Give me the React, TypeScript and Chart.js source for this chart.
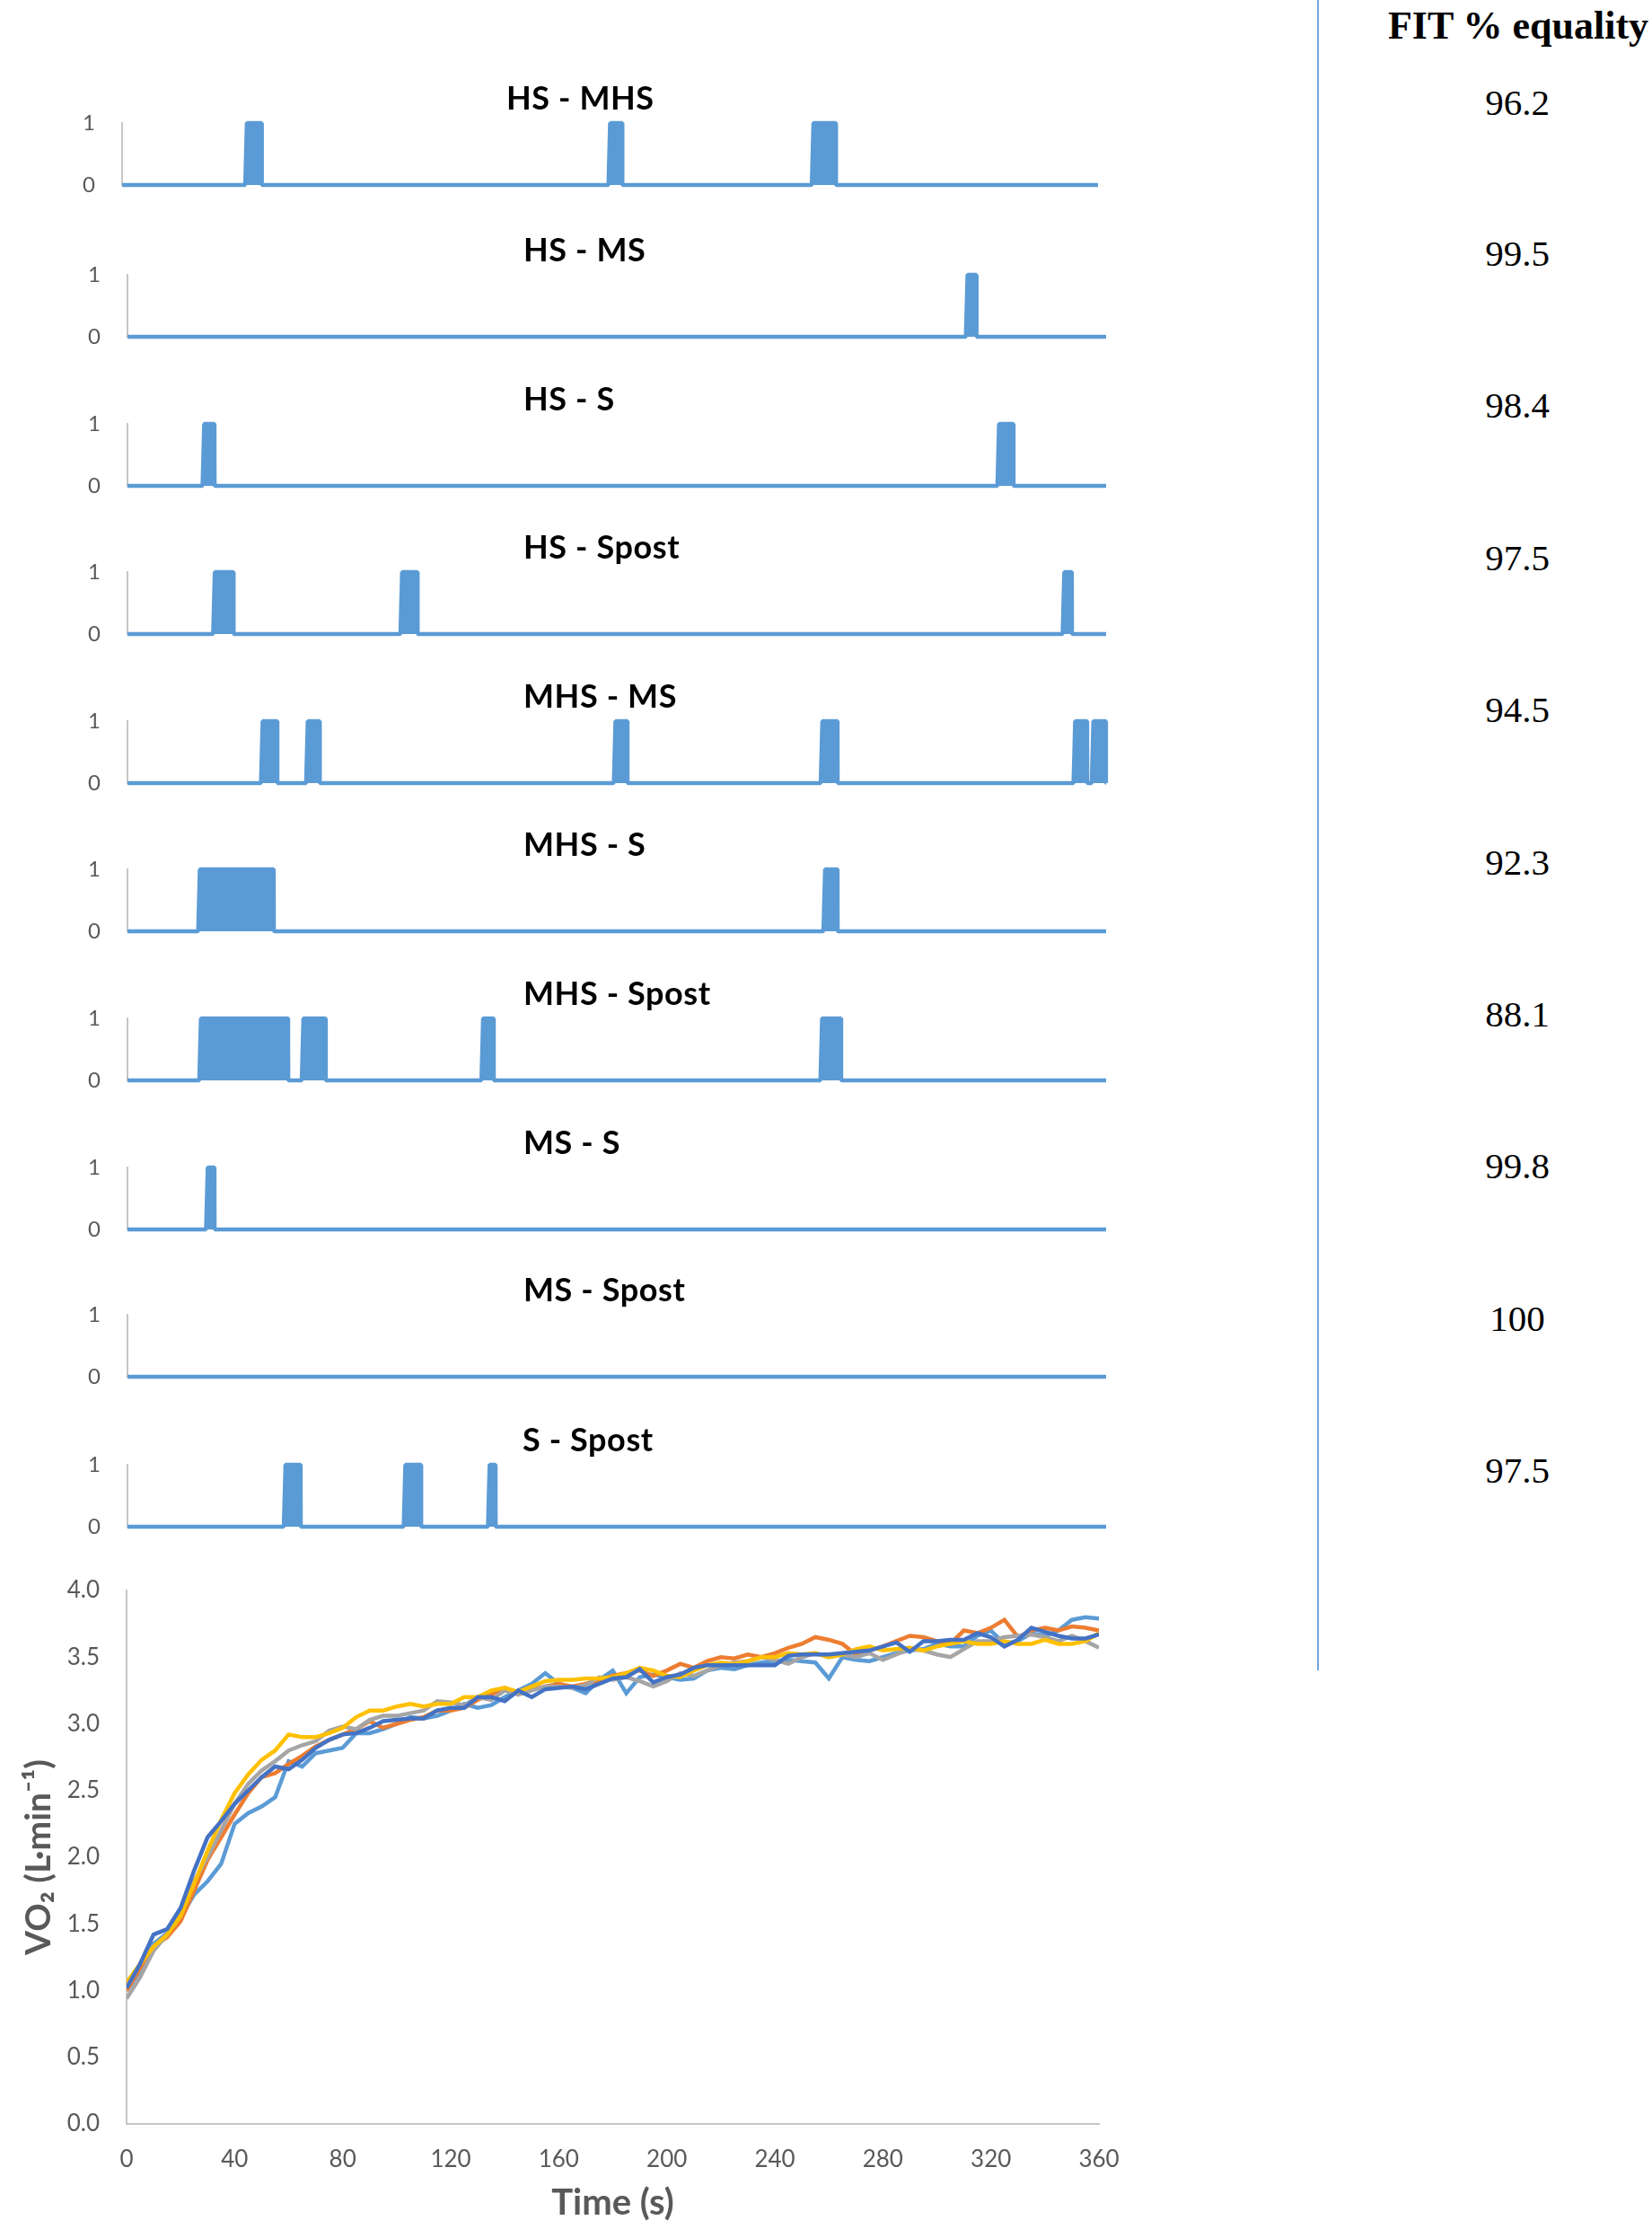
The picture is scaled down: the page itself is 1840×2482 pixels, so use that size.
import React, { useEffect, useRef } from "react";
import { Chart, registerables } from "chart.js";

Chart.register(...registerables);

// ---------------- data ----------------
const TIME = [
  0, 5, 10, 15, 20, 25, 30, 35, 40, 45,
  50, 55, 60, 65, 70, 75, 80, 85, 90, 95,
  100, 105, 110, 115, 120, 125, 130, 135, 140, 145,
  150, 155, 160, 165, 170, 175, 180, 185, 190, 195,
  200, 205, 210, 215, 220, 225, 230, 235, 240, 245,
  250, 255, 260, 265, 270, 275, 280, 285, 290, 295,
  300, 305, 310, 315, 320, 325, 330, 335, 340, 345,
  350, 355, 360,
];

const SERIES_LIGHT_BLUE = [
  1.0, 1.15, 1.35, 1.43, 1.55, 1.72, 1.82, 1.95, 2.25, 2.33,
  2.38, 2.45, 2.72, 2.68, 2.78, 2.8, 2.82, 2.93, 2.93, 2.96,
  3.0, 3.05, 3.04, 3.06, 3.1, 3.15, 3.12, 3.14, 3.2, 3.25,
  3.3, 3.38, 3.3, 3.27, 3.23, 3.33, 3.4, 3.23, 3.35, 3.37,
  3.35, 3.33, 3.34, 3.4, 3.42, 3.41, 3.44, 3.46, 3.47, 3.48,
  3.47, 3.46, 3.34, 3.5, 3.48, 3.47, 3.5, 3.53, 3.55, 3.56,
  3.6, 3.58, 3.58, 3.66, 3.7, 3.6, 3.62, 3.68, 3.66, 3.7,
  3.78, 3.8, 3.79,
];

const SERIES_ORANGE = [
  1.0, 1.17, 1.33, 1.4, 1.52, 1.75, 1.98, 2.15, 2.32, 2.48,
  2.6, 2.63, 2.7, 2.76, 2.83, 2.88, 2.92, 2.96, 3.02, 2.97,
  3.0, 3.03, 3.05, 3.1, 3.1, 3.12, 3.18, 3.22, 3.27, 3.22,
  3.26, 3.28, 3.3, 3.28, 3.3, 3.33, 3.36, 3.38, 3.4, 3.36,
  3.4, 3.45, 3.42, 3.47, 3.5, 3.49, 3.52, 3.5, 3.53, 3.57,
  3.6, 3.65, 3.63, 3.6, 3.52, 3.55, 3.58, 3.62, 3.66, 3.65,
  3.62, 3.6, 3.7, 3.68, 3.72, 3.78, 3.65, 3.7, 3.72, 3.7,
  3.73, 3.72, 3.7,
];

const SERIES_GRAY = [
  0.94, 1.1, 1.3, 1.42, 1.58, 1.82, 2.0, 2.2, 2.4, 2.55,
  2.65, 2.72, 2.8, 2.84, 2.87, 2.95, 2.98, 2.96, 3.03, 3.06,
  3.06, 3.08, 3.1, 3.17, 3.16, 3.14, 3.2, 3.18, 3.25, 3.22,
  3.25, 3.28, 3.28, 3.27, 3.29, 3.35, 3.33, 3.35, 3.32, 3.28,
  3.32, 3.38, 3.36, 3.4, 3.44, 3.46, 3.47, 3.5, 3.48, 3.45,
  3.5, 3.53, 3.5, 3.52, 3.5, 3.53, 3.48, 3.52, 3.56, 3.55,
  3.52, 3.5, 3.56, 3.62, 3.62, 3.65, 3.66, 3.67, 3.65, 3.62,
  3.66, 3.62, 3.57,
];

const SERIES_YELLOW = [
  1.06, 1.2, 1.33, 1.42, 1.56, 1.8, 2.05, 2.28, 2.48, 2.62,
  2.73, 2.8, 2.92, 2.9, 2.9, 2.93, 2.97, 3.05, 3.1, 3.1,
  3.13, 3.15, 3.13, 3.15, 3.15, 3.2, 3.2, 3.25, 3.27, 3.24,
  3.28, 3.32, 3.33, 3.33, 3.34, 3.34, 3.35, 3.38, 3.42, 3.4,
  3.36, 3.35, 3.4, 3.44, 3.46, 3.45, 3.47, 3.5, 3.5, 3.53,
  3.52, 3.53, 3.5, 3.52, 3.56, 3.58, 3.55, 3.56, 3.57, 3.55,
  3.58, 3.6, 3.62, 3.6, 3.6, 3.62, 3.6, 3.6, 3.63, 3.6,
  3.6, 3.62, 3.68,
];

const SERIES_DARK_BLUE = [
  1.02, 1.2, 1.42, 1.46, 1.62, 1.9, 2.15, 2.27, 2.4, 2.5,
  2.6, 2.68, 2.66, 2.73, 2.82, 2.88, 2.92, 2.93, 2.97, 3.02,
  3.03, 3.04, 3.04, 3.1, 3.12, 3.12, 3.2, 3.2, 3.17, 3.25,
  3.2, 3.26, 3.27, 3.28, 3.26, 3.3, 3.34, 3.35, 3.41, 3.31,
  3.35, 3.37, 3.42, 3.44, 3.44, 3.44, 3.44, 3.44, 3.44, 3.51,
  3.52, 3.52, 3.52, 3.53, 3.54, 3.55, 3.58, 3.61, 3.54, 3.62,
  3.62, 3.63, 3.63, 3.68, 3.65, 3.58, 3.63, 3.72, 3.69, 3.66,
  3.64, 3.64, 3.67,
];

// Disagreement periods (seconds) for each pairwise comparison: [start, end]
const HS_MHS = [[46, 51.5], [180, 184.5], [255, 263.3]];
const HS_MS = [[309, 312.3]];
const HS_S = [[28.2, 32], [320.6, 325.9]];
const HS_SPOST = [[32.1, 39], [101, 106.7], [344.6, 347.4]];
const MHS_MS = [[49.7, 55.1], [66.3, 70.7], [179.5, 183.9], [255.6, 261.2], [348.6, 353], [355.3, 359.9]];
const MHS_S = [[26.6, 53.8], [256.6, 261.2]];
const MHS_SPOST = [[27, 59.1], [64.7, 72.9], [130.8, 134.7], [255.5, 262.5]];
const MS_S = [[29.5, 32]];
const MS_SPOST: number[][] = [];
const S_SPOST = [[58.1, 63.7], [102.2, 108], [133.2, 135.4]];

const PANEL_TITLES = [
  "HS - MHS", "HS - MS", "HS - S", "HS - Spost", "MHS - MS",
  "MHS - S", "MHS - Spost", "MS - S", "MS - Spost", "S - Spost",
];
const PANEL_DATA = [HS_MHS, HS_MS, HS_S, HS_SPOST, MHS_MS, MHS_S, MHS_SPOST, MS_S, MS_SPOST, S_SPOST];

const FIT_HEADER = "FIT % equality";
const FIT_VALUES = ["96.2", "99.5", "98.4", "97.5", "94.5", "92.3", "88.1", "99.8", "100", "97.5"];

const Y_AXIS_TITLE = "VO\u2082 (L\u00B7min\u207B\u00B9)";
const X_AXIS_TITLE = "Time (s)";

// ---------------- layout / style ----------------
const PANEL_BASELINES = [206, 375, 541, 706, 872, 1037, 1203, 1369, 1533, 1700];
const PANEL_LEFT = [136, 142, 142, 142, 142, 142, 142, 142, 142, 142];
const PANEL_RIGHT = [1223, 1232, 1232, 1232, 1232, 1232, 1232, 1232, 1232, 1232];
const TITLE_LEFT = [564, 583, 583, 583, 583, 583, 583, 583, 583, 582];
const FIT_Y = [114, 282, 451, 621, 790, 960, 1129, 1298, 1468, 1637];
const PANEL_H = 69;
const PAD = 24;
const CANVAS_W = 1260;

const BLUE = "#5B9BD5";
const AXIS_GRAY = "#C6C6C6";
const TICK_GRAY = "#595959";
const NONE = "rgba(0,0,0,0)";

// invisible tick marks used as a spacer between axis and labels
const spacerGrid = (len: number) => ({
  display: true,
  drawOnChartArea: false,
  drawTicks: true,
  tickLength: len,
  color: NONE,
  tickColor: NONE,
});

function toStepPoints(intervals: number[][]) {
  const pts: { x: number; y: number }[] = [{ x: 0, y: 0 }];
  for (const [s, e] of intervals) {
    pts.push({ x: s - 0.6, y: 0 }, { x: s, y: 1 }, { x: e, y: 1 }, { x: e + 0.05, y: 0 });
  }
  pts.push({ x: 360, y: 0 });
  return pts;
}

function BinaryPanel({ index }: { index: number }) {
  const ref = useRef<HTMLCanvasElement>(null);
  const H = PANEL_H + 2 * PAD;
  useEffect(() => {
    const left = PANEL_LEFT[index];
    const right = PANEL_RIGHT[index];
    const chart = new Chart(ref.current!, {
      type: "line",
      data: {
        datasets: [
          {
            data: toStepPoints(PANEL_DATA[index]),
            borderColor: BLUE,
            backgroundColor: BLUE,
            borderWidth: 4.5,
            fill: "origin",
            pointRadius: 0,
            tension: 0,
            clip: 10,
            borderJoinStyle: "bevel",
          } as any,
        ],
      },
      options: {
        animation: false,
        responsive: false,
        events: [],
        layout: { autoPadding: false, padding: { top: PAD, bottom: PAD, left: 0, right: CANVAS_W - right } },
        plugins: { legend: { display: false }, tooltip: { enabled: false }, title: { display: false } },
        scales: {
          x: { type: "linear", min: 0, max: 360, display: false },
          y: {
            min: 0,
            max: 1,
            afterFit: (s: any) => {
              s.width = left;
            },
            grid: spacerGrid(28),
            border: { display: true, color: AXIS_GRAY, width: 2 },
            ticks: { stepSize: 1, padding: 2, color: TICK_GRAY, font: { family: "Lato", size: 24 } },
          },
        },
      } as any,
    });
    return () => chart.destroy();
  }, [index]);
  return (
    <canvas
      ref={ref}
      width={CANVAS_W}
      height={H}
      style={{ position: "absolute", left: 0, top: PANEL_BASELINES[index] - PANEL_H - PAD, width: CANVAS_W, height: H }}
    />
  );
}

const VO2_TOP = 1740;
const VO2_H = 742;

function VO2Chart() {
  const ref = useRef<HTMLCanvasElement>(null);
  useEffect(() => {
    const mk = (data: number[], color: string, order: number) => ({
      data: TIME.map((t, i) => ({ x: t, y: data[i] })),
      borderColor: color,
      backgroundColor: color,
      borderWidth: 4.5,
      pointRadius: 0,
      tension: 0,
      fill: false,
      order,
    });
    const chart = new Chart(ref.current!, {
      type: "line",
      data: {
        datasets: [
          mk(SERIES_LIGHT_BLUE, "#5B9BD5", 4),
          mk(SERIES_ORANGE, "#ED7D31", 3),
          mk(SERIES_GRAY, "#A5A5A5", 2),
          mk(SERIES_YELLOW, "#FFC000", 1),
          mk(SERIES_DARK_BLUE, "#4472C4", 0),
        ],
      },
      options: {
        animation: false,
        responsive: false,
        events: [],
        layout: { autoPadding: false, padding: { top: 31, bottom: 0, left: 0, right: CANVAS_W - 1224 } },
        plugins: { legend: { display: false }, tooltip: { enabled: false } },
        scales: {
          x: {
            type: "linear",
            min: 0,
            max: 360,
            afterFit: (s: any) => {
              s.height = 117;
            },
            grid: spacerGrid(22),
            border: { display: true, color: AXIS_GRAY, width: 2 },
            ticks: { stepSize: 40, padding: 2, color: TICK_GRAY, font: { family: "Lato", size: 26 }, maxRotation: 0 },
            title: {
              display: true,
              text: X_AXIS_TITLE,
              color: TICK_GRAY,
              font: { family: "Lato", size: 40, weight: "bold" },
              padding: { top: 0, bottom: 5 },
            },
          },
          y: {
            min: 0,
            max: 4,
            afterFit: (s: any) => {
              s.width = 141;
            },
            grid: spacerGrid(28),
            border: { display: true, color: AXIS_GRAY, width: 2 },
            ticks: {
              stepSize: 0.5,
              padding: 2,
              color: TICK_GRAY,
              font: { family: "Lato", size: 26 },
              callback: (v: any) => Number(v).toFixed(1),
            },
            title: {
              display: true,
              text: Y_AXIS_TITLE,
              color: TICK_GRAY,
              font: { family: "Lato", size: 39, weight: "bold" },
              padding: { top: 20, bottom: 0 },
            },
          },
        },
      } as any,
    });
    return () => chart.destroy();
  }, []);
  return (
    <canvas
      ref={ref}
      width={CANVAS_W}
      height={VO2_H}
      style={{ position: "absolute", left: 0, top: VO2_TOP, width: CANVAS_W, height: VO2_H }}
    />
  );
}

export default function App() {
  return (
    <div style={{ position: "absolute", left: 0, top: 0, width: 1840, height: 2482, background: "#fff", overflow: "hidden" }}>
      {PANEL_TITLES.map((t, i) => (
        <React.Fragment key={t}>
          <BinaryPanel index={i} />
          <div
            style={{
              position: "absolute",
              left: TITLE_LEFT[i],
              top: PANEL_BASELINES[i] - 116,
              font: "bold 36px Lato",
              lineHeight: "36px",
              letterSpacing: "0.6px",
              color: "#000",
              whiteSpace: "nowrap",
            }}
          >
            {t}
          </div>
        </React.Fragment>
      ))}
      <VO2Chart />
      <div style={{ position: "absolute", left: 1467, top: 0, width: 2, height: 1860, background: "#70A8E0" }} />
      <div
        style={{
          position: "absolute",
          left: 1691,
          top: 29,
          transform: "translate(-50%, -50%)",
          font: 'bold 44px "Liberation Serif"',
          lineHeight: "44px",
          color: "#000",
          whiteSpace: "nowrap",
        }}
      >
        {FIT_HEADER}
      </div>
      {FIT_VALUES.map((v, i) => (
        <div
          key={i}
          style={{
            position: "absolute",
            left: 1690,
            top: FIT_Y[i],
            transform: "translate(-50%, -50%)",
            font: '41px "Liberation Serif"',
            lineHeight: "41px",
            color: "#000",
            whiteSpace: "nowrap",
          }}
        >
          {v}
        </div>
      ))}
    </div>
  );
}
